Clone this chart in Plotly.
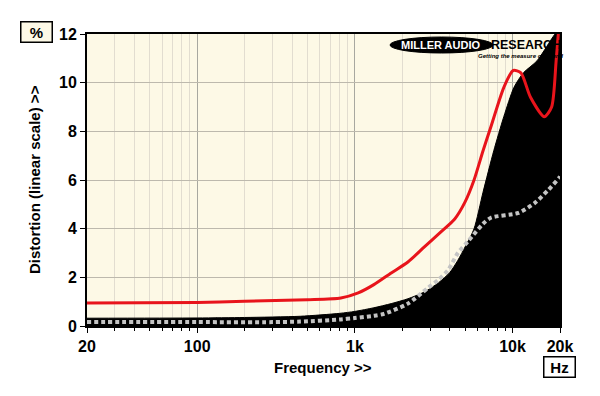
import plotly.graph_objects as go

# ---- data ----
freq_floor = [20, 100, 200, 450, 800, 1000, 1320, 1700, 2170, 2760, 3380, 4000, 4500,
              5000, 5700, 6500, 7600, 8800, 10200, 11700, 14300, 17700, 20000]
floor = [0.32, 0.33, 0.35, 0.4, 0.52, 0.6, 0.75, 0.92, 1.12, 1.4, 1.77, 2.2, 2.7,
         3.25, 4.0, 5.5, 7.2, 8.6, 9.8, 10.4, 10.9, 11.8, 12.3]

freq_red = [20, 100, 200, 500, 815, 1050, 1320, 1700, 2170, 2760, 3500, 4300, 5000,
            5700, 6500, 7300, 8800, 10100, 11300, 13000, 15900, 17700, 18900, 19700, 20000]
red = [0.95, 0.97, 1.02, 1.08, 1.15, 1.36, 1.7, 2.18, 2.63, 3.25, 3.86, 4.4, 5.1,
       6.0, 7.2, 8.2, 9.8, 10.5, 10.4, 9.4, 8.6, 9.0, 10.9, 12.3, 12.6]

freq_dash = [20, 100, 300, 450, 815, 1000, 1320, 1530, 2170, 2900, 3380, 3900, 4500,
             5250, 6500, 7300, 10900, 13800, 16900, 19800, 20000]
dash = [0.16, 0.16, 0.16, 0.18, 0.27, 0.33, 0.42, 0.5, 0.92, 1.56, 1.9, 2.3, 3.0,
        3.5, 4.2, 4.45, 4.65, 5.05, 5.6, 6.1, 6.15]

x_major = [20, 100, 1000, 10000, 20000]
x_major_text = ["20", "100", "1k", "10k", "20k"]
x_minor = [30, 40, 50, 60, 70, 80, 90, 200, 300, 400, 500, 600, 700, 800, 900,
           2000, 3000, 4000, 5000, 6000, 7000, 8000, 9000]
y_ticks = [0, 2, 4, 6, 8, 10, 12]

CREAM = "#FDF9E6"
FONT = "Liberation Sans, Arial, sans-serif"

fig = go.Figure()
fig.add_trace(go.Scatter(x=freq_floor, y=floor, mode="lines", fill="tozeroy",
                         fillcolor="black",
                         line=dict(color="black", width=1, shape="spline", smoothing=0.7),
                         showlegend=False, hoverinfo="skip"))
fig.add_trace(go.Scatter(x=freq_dash, y=dash, mode="lines",
                         line=dict(color="#c4c4c4", width=4, dash="4px,3px",
                                   shape="spline", smoothing=0.7),
                         showlegend=False))
fig.add_trace(go.Scatter(x=freq_red, y=red, mode="lines",
                         line=dict(color="#E8141B", width=3, shape="spline", smoothing=0.7),
                         showlegend=False))

fig.update_layout(
    width=600, height=396,
    margin=dict(l=87, r=40, t=34, b=70),
    paper_bgcolor="white", plot_bgcolor=CREAM,
    font=dict(family=FONT, size=15, color="black"),
    xaxis=dict(type="log", range=[1.30103, 4.30103],
               tickmode="array", tickvals=x_major, ticktext=x_major_text,
               ticks="outside", ticklen=5, tickwidth=1, tickcolor="black",
               showgrid=True, gridcolor="#a8a8a0", gridwidth=1,
               minor=dict(tickmode="array", tickvals=x_minor, ticks="outside",
                          ticklen=3, tickcolor="black", showgrid=True,
                          gridcolor="#e2ddd0", gridwidth=1),
               showline=True, linecolor="black", linewidth=2, mirror=True,
               tickfont=dict(family=FONT, size=16, color="black", weight="bold"),
               zeroline=False),
    yaxis=dict(range=[0, 12], tickvals=y_ticks,
               ticks="outside", ticklen=5, tickcolor="black",
               showgrid=True, gridcolor="#bdb9ad", gridwidth=1,
               showline=True, linecolor="black", linewidth=2, mirror=True,
               tickfont=dict(family=FONT, size=16, color="black", weight="bold"),
               zeroline=False),
)

def px(x):
    return (x - 87) / 473

def py(y):
    return (326 - y) / 292

shapes = [
    dict(type="circle", xref="paper", yref="paper", x0=px(390), x1=px(493),
         y0=py(53), y1=py(37), fillcolor="black", line=dict(color="black", width=1)),
]
fig.update_layout(shapes=shapes)

C = dict(xref="paper", yref="paper", showarrow=False, xanchor="center", yanchor="middle")
ann = [
    dict(text="<b>MILLER AUDIO</b>", x=px(440), y=py(45),
         font=dict(family=FONT, size=11, color="white"), **C),
    dict(text="<b>RESEARCH</b>", x=px(526), y=py(45),
         font=dict(family=FONT, size=12.5, color="black"), **C),
    dict(text="<b><i>Getting the measure of sound</i></b>", x=px(520), y=py(56),
         font=dict(family=FONT, size=6, color="black"), **C),
    dict(text="<b>%</b>", x=px(36), y=py(32.5), width=28, height=17, bgcolor=CREAM,
         bordercolor="black", borderwidth=1.5,
         font=dict(family=FONT, size=15, color="black"), **C),
    dict(text="<b>Hz</b>", x=px(559), y=py(367), width=28, height=17, bgcolor="white",
         bordercolor="black", borderwidth=1.5,
         font=dict(family=FONT, size=15, color="black"), **C),
    dict(text="<b>Frequency >></b>", x=px(323), y=py(367),
         font=dict(family=FONT, size=15, color="black"), **C),
    dict(text="<b>Distortion (linear scale) >></b>", x=px(34), y=py(180), textangle=-90,
         font=dict(family=FONT, size=15, color="black"), **C),
]
fig.update_layout(annotations=ann)

fig.write_html("out.html", config={"displayModeBar": False},
               post_script="document.body.style.margin='0';")
